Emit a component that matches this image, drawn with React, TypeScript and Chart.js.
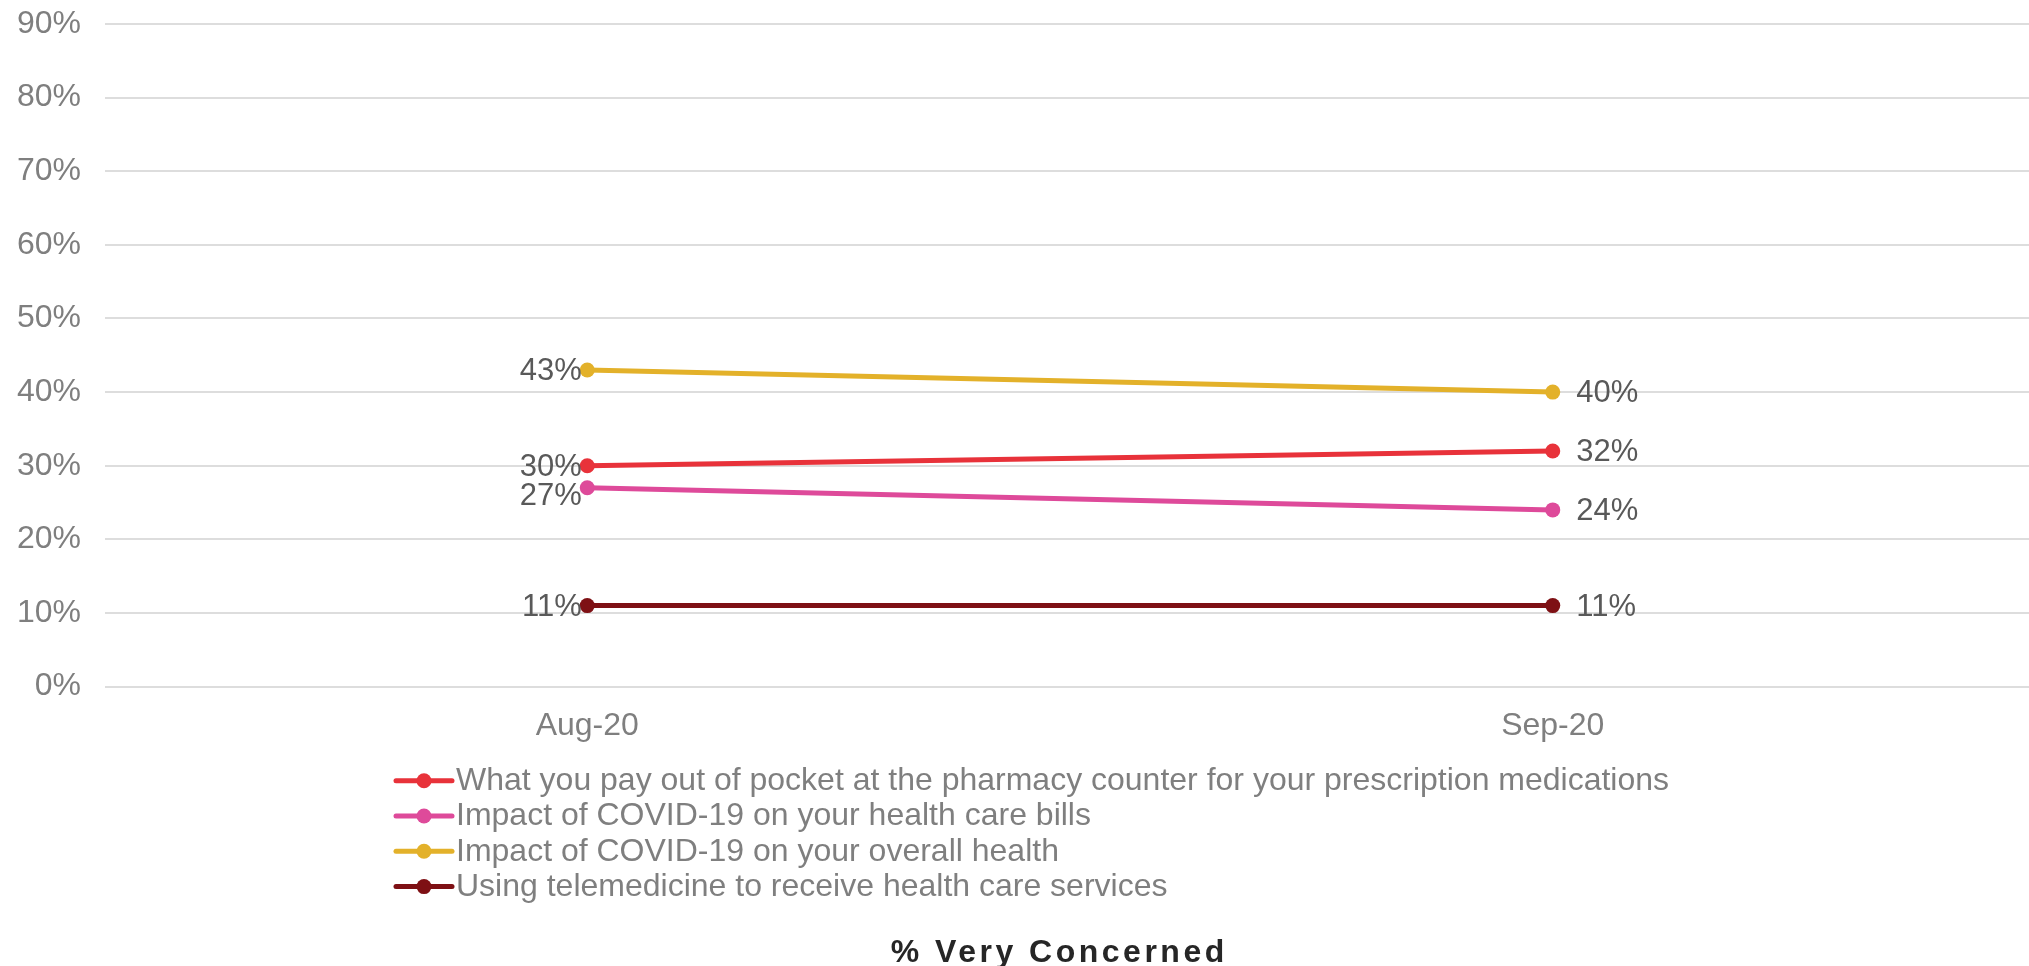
import React, { useEffect, useRef } from "react";
import { Chart, registerables } from "chart.js";

Chart.register(...registerables);

// ---- data ----
const categories = ["Aug-20", "Sep-20"];
const seriesNames = [
  "What you pay out of pocket at the pharmacy counter for your prescription medications",
  "Impact of COVID-19 on your health care bills",
  "Impact of COVID-19 on your overall health",
  "Using telemedicine to receive health care services",
];
const pharmacyCounter = [30, 32];
const healthCareBills = [27, 24];
const overallHealth = [43, 40];
const telemedicine = [11, 11];
const seriesValues = [pharmacyCounter, healthCareBills, overallHealth, telemedicine];
const seriesColors = ["#E8323A", "#DE4A9A", "#E3B12A", "#7E1014"];
const yMin = 0;
const yMax = 90;
const yStep = 10;
const chartTitle = "% Very Concerned";

// ---- styling / layout ----
const FONT = '"Liberation Sans", Arial, Helvetica, sans-serif';
const CANVAS_W = 2043;
const CANVAS_H = 966;
const PLOT_TOP = 24;
const PLOT_LEFT = 104.5;
const PLOT_BOTTOM = 686.6;

const dataLabelPlugin = {
  id: "dataLabels",
  afterDatasetsDraw(chart: any) {
    const ctx = chart.ctx;
    ctx.save();
    ctx.font = `31px ${FONT}`;
    ctx.fillStyle = "#595959";
    ctx.textBaseline = "middle";
    const n = chart.data.labels.length;
    for (let i = 0; i < n; i++) {
      const items: { x: number; y: number; text: string }[] = [];
      chart.data.datasets.forEach((ds: any, di: number) => {
        const el = chart.getDatasetMeta(di).data[i];
        items.push({ x: el.x, y: el.y, text: ds.data[i] + "%" });
      });
      items.sort((a, b) => a.y - b.y);
      let prev = -Infinity;
      items.forEach((it) => {
        let y = it.y + 1.5;
        if (y - prev < 29) y = prev + 29;
        prev = y;
        if (i === 0) {
          ctx.textAlign = "right";
          ctx.fillText(it.text, it.x - 5.5, y);
        } else {
          ctx.textAlign = "left";
          ctx.fillText(it.text, it.x + 23.5, y);
        }
      });
    }
    ctx.restore();
  },
};

const legendPlugin = {
  id: "customLegend",
  afterDraw(chart: any) {
    const ctx = chart.ctx;
    ctx.save();
    const left = 396;
    const top = 780.7;
    const rowH = 35.3;
    ctx.font = `32px ${FONT}`;
    ctx.textBaseline = "middle";
    ctx.textAlign = "left";
    chart.data.datasets.forEach((ds: any, i: number) => {
      const y = top + i * rowH;
      ctx.strokeStyle = ds.borderColor;
      ctx.lineWidth = 5;
      ctx.lineCap = "round";
      ctx.beginPath();
      ctx.moveTo(left, y);
      ctx.lineTo(left + 56, y);
      ctx.stroke();
      ctx.fillStyle = ds.borderColor;
      ctx.beginPath();
      ctx.arc(left + 28, y, 7.5, 0, Math.PI * 2);
      ctx.fill();
      ctx.fillStyle = "#7F7F7F";
      ctx.fillText(ds.label, left + 60, y + 0.5);
    });
    ctx.restore();
  },
};

const titlePlugin = {
  id: "spacedTitle",
  afterDraw(chart: any) {
    const ctx = chart.ctx;
    ctx.save();
    ctx.font = `bold 32px ${FONT}`;
    (ctx as any).letterSpacing = "3.5px";
    ctx.fillStyle = "#262626";
    ctx.textBaseline = "alphabetic";
    ctx.textAlign = "left";
    const w = ctx.measureText(chartTitle).width - 3.5;
    ctx.fillText(chartTitle, 1057.5 - w / 2, 961.7);
    ctx.restore();
  },
};

export default function App() {
  const canvasRef = useRef<HTMLCanvasElement | null>(null);

  useEffect(() => {
    if (!canvasRef.current) return;
    const chart = new Chart(canvasRef.current, {
      type: "line",
      data: {
        labels: categories,
        datasets: seriesNames.map((name, i) => ({
          label: name,
          data: seriesValues[i],
          borderColor: seriesColors[i],
          backgroundColor: seriesColors[i],
          pointBackgroundColor: seriesColors[i],
          pointBorderWidth: 0,
          pointRadius: 7.5,
          borderWidth: 5,
          tension: 0,
          fill: false,
        })),
      },
      options: {
        responsive: false,
        animation: false,
        devicePixelRatio: 1,
        layout: { padding: { top: PLOT_TOP, left: 0, right: 0, bottom: 0 } },
        plugins: {
          legend: { display: false },
          title: { display: false },
          tooltip: { enabled: false },
        },
        scales: {
          x: {
            type: "category",
            offset: true,
            grid: { display: false, drawTicks: false },
            border: { display: false },
            ticks: {
              color: "#7F7F7F",
              font: { family: FONT, size: 32 },
              padding: 20.5,
              maxRotation: 0,
            },
            afterFit: (s: any) => {
              s.height = CANVAS_H - PLOT_BOTTOM;
              s.paddingLeft = 0;
              s.paddingRight = 0;
              s.paddingTop = 0;
              s.paddingBottom = 0;
            },
          },
          y: {
            min: yMin,
            max: yMax,
            grid: { color: "#DDDDDD", lineWidth: 2, drawTicks: false },
            border: { display: false },
            ticks: {
              stepSize: yStep,
              color: "#7F7F7F",
              font: { family: FONT, size: 32 },
              padding: 23.5,
              callback: (v: any) => v + "%",
            },
            afterFit: (s: any) => {
              s.width = PLOT_LEFT;
              s.paddingLeft = 0;
              s.paddingRight = 0;
              s.paddingTop = 0;
              s.paddingBottom = 0;
            },
          },
        },
      },
      plugins: [dataLabelPlugin, legendPlugin, titlePlugin],
    });
    return () => chart.destroy();
  }, []);

  return (
    <div
      style={{
        position: "absolute",
        left: 0,
        top: 0,
        width: 2029,
        height: 966,
        overflow: "hidden",
        background: "#FFFFFF",
      }}
    >
      <canvas
        ref={canvasRef}
        width={CANVAS_W}
        height={CANVAS_H}
        style={{ display: "block", width: CANVAS_W, height: CANVAS_H }}
      />
    </div>
  );
}
